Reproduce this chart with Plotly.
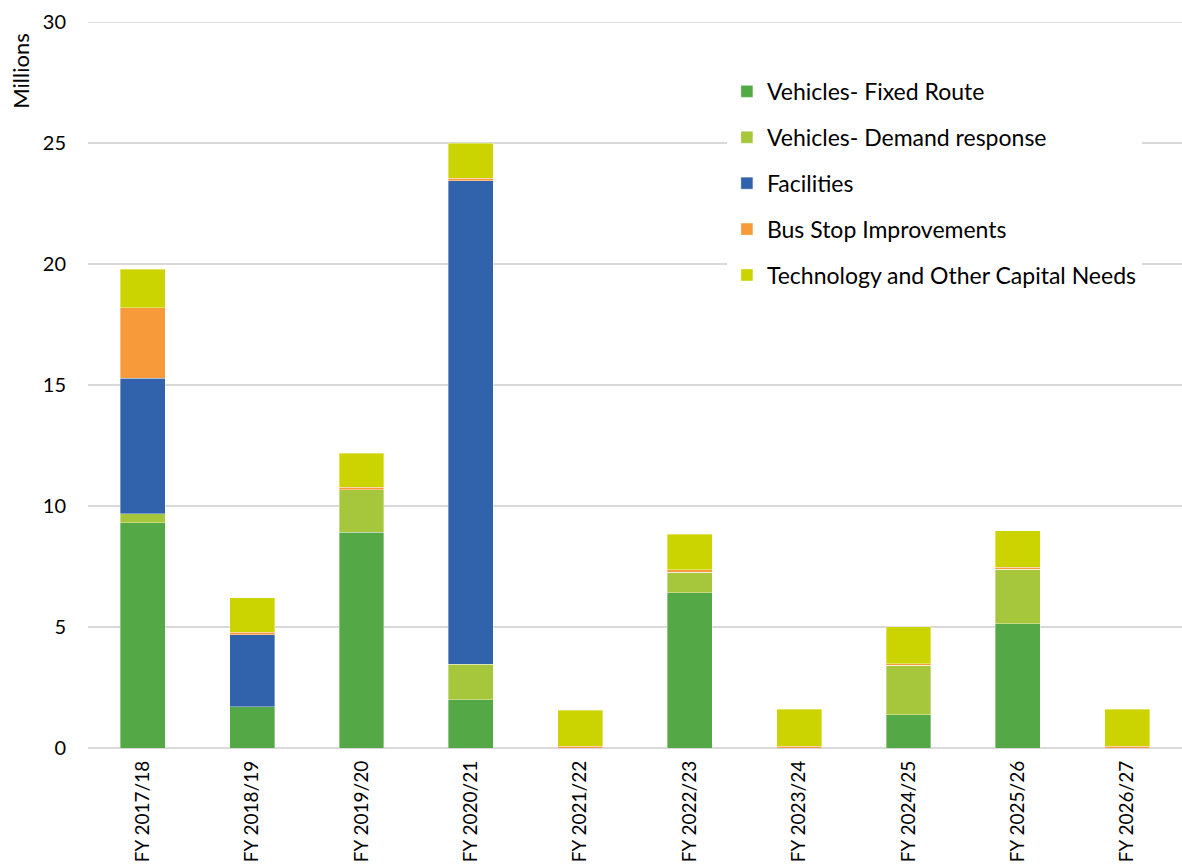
import plotly.graph_objects as go

categories = ["FY 2017/18", "FY 2018/19", "FY 2019/20", "FY 2020/21", "FY 2021/22",
              "FY 2022/23", "FY 2023/24", "FY 2024/25", "FY 2025/26", "FY 2026/27"]

fixed_route = [9.30, 1.70, 8.91, 2.00, 0.0, 6.42, 0.0, 1.38, 5.14, 0.0]
demand_response = [0.37, 0.0, 1.76, 1.46, 0.0, 0.85, 0.0, 2.04, 2.24, 0.0]
facilities = [5.61, 2.97, 0.0, 19.98, 0.0, 0.0, 0.0, 0.0, 0.0, 0.0]
bus_stop = [2.91, 0.12, 0.10, 0.11, 0.08, 0.10, 0.08, 0.07, 0.08, 0.08]
technology = [1.60, 1.41, 1.42, 1.43, 1.49, 1.47, 1.52, 1.53, 1.52, 1.53]

series = [
    ("Vehicles- Fixed Route", fixed_route, "#55A846"),
    ("Vehicles- Demand response", demand_response, "#A6C63C"),
    ("Facilities", facilities, "#3163AC"),
    ("Bus Stop Improvements", bus_stop, "#F79A3A"),
    ("Technology and Other Capital Needs", technology, "#CCD400"),
]

FONT = "Lato"

fig = go.Figure()
for name, vals, color in series:
    fig.add_trace(go.Bar(
        x=categories, y=vals, name=name, legendgroup=name,
        marker=dict(color=color, line=dict(width=0.6, color="rgba(255,255,255,0.6)")),
    ))

fig.update_layout(
    barmode="stack",
    bargap=0.59,
    width=1182, height=867,
    margin=dict(l=88, r=0, t=22, b=119),
    plot_bgcolor="white", paper_bgcolor="white",
    font=dict(family=FONT, size=19, color="#000000"),
    legend=dict(
        x=0.584, y=0.934, xanchor="left", yanchor="top",
        bgcolor="white", traceorder="grouped", tracegroupgap=13,
        font=dict(family=FONT, size=23, color="#000000"),
        itemwidth=30,
    ),
    xaxis=dict(
        tickangle=-90, showgrid=False, showline=False, ticks="",
        tickfont=dict(family=FONT, size=19), automargin=False,
        ticklabelstandoff=8,
    ),
    yaxis=dict(
        range=[0, 30], dtick=5, showgrid=True, gridcolor="#D9D9D9", gridwidth=1.5,
        zeroline=True, zerolinecolor="#D9D9D9", zerolinewidth=1.5,
        ticks="", tickfont=dict(family=FONT, size=20), ticklabelstandoff=21,
        automargin=False,
    ),
    annotations=[dict(
        text="Millions", textangle=-90, xref="paper", yref="paper",
        x=-0.0612, y=0.986, xanchor="center", yanchor="top", showarrow=False,
        font=dict(family=FONT, size=22, color="#000000"),
    )],
    shapes=[dict(type="line", xref="paper", yref="y", x0=0, x1=1, y0=30, y1=30,
                 line=dict(color="#D9D9D9", width=1.5), layer="below")],
)

fig.write_html(
    "out.html",
    config={"displayModeBar": False},
    post_script="document.body.style.margin='0';document.body.style.overflow='hidden';",
)
